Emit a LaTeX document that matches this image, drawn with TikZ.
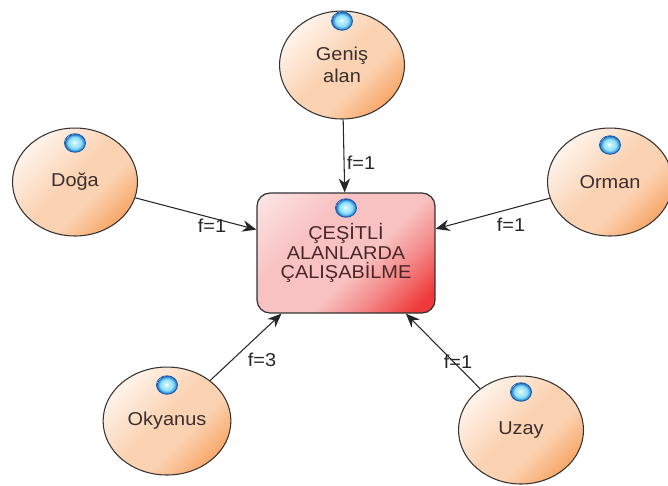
\documentclass[tikz,border=0pt]{standalone}
\usepackage{fontspec}
\setmainfont{Liberation Sans}
\newfontfamily\widesans[FakeStretch=1.07]{Liberation Sans}
\usepackage{tikz}
\usetikzlibrary{arrows.meta, shapes.geometric}
\definecolor{peachlight}{HTML}{FEF1E7}
\definecolor{peachmid}{HTML}{FBD2B2}
\definecolor{peachdark}{HTML}{F7A464}
\definecolor{boxlight}{HTML}{FCE4E4}
\definecolor{boxmid}{HTML}{F8C2C2}
\definecolor{boxdark}{HTML}{EE3A3A}
\definecolor{gelring}{HTML}{1C5CAE}
\definecolor{gelblue}{HTML}{3F9BE0}
\definecolor{gelcyan}{HTML}{8FE2FA}
\definecolor{inktext}{HTML}{3A2E2E}
\definecolor{boxtext}{HTML}{4A2626}
\pgfdeclarehorizontalshading{peachshade}{100bp}{color(0bp)=(peachlight); color(27bp)=(peachlight);
  color(48bp)=(peachmid); color(60bp)=(peachmid); color(76bp)=(peachdark); color(100bp)=(peachdark)}
\pgfdeclarehorizontalshading{boxshade}{100bp}{color(0bp)=(boxlight); color(16bp)=(boxlight);
  color(36bp)=(boxmid); color(56bp)=(boxmid); color(68bp)=(boxmid!55!boxdark); color(80bp)=(boxdark);
  color(100bp)=(boxdark)}
\pgfdeclareradialshading{gelshade}{\pgfpoint{-2bp}{2bp}}{color(0bp)=(white); color(6bp)=(gelcyan!60!white);
  color(15bp)=(gelcyan); color(21bp)=(gelblue); color(25bp)=(gelring)}

\begin{document}
\begin{tikzpicture}[
  x=0.02cm, y=-0.02cm,
  topic/.style={ellipse, draw=black!80, line width=0.6pt,
    minimum width=2.5cm, minimum height=2.16cm,
    shading=peachshade, shading angle=-45,
    font=\widesans\fontsize{10.6}{12.5}\selectfont, text=inktext, align=center},
  goal/.style={rectangle, rounded corners=0.26cm, draw=black!80, line width=0.7pt,
    minimum width=3.56cm, minimum height=2.4cm,
    shading=boxshade, shading angle=-45,
    font=\widesans\fontsize{10.6}{11.2}\selectfont, text=boxtext, align=center},
  gel/.style={ellipse, draw=gelring, line width=0.5pt, inner sep=0pt,
    minimum width=0.42cm, minimum height=0.37cm, shading=gelshade},
  conn/.style={-{Stealth[length=2.8mm, width=2.3mm]}, draw=black!85, line width=0.6pt},
  flbl/.style={font=\widesans\fontsize{10.6}{12}\selectfont, text=black!85, inner sep=1pt}
]
  \useasboundingbox (0,0) rectangle (668,485);
  % Central box
  \node[goal] (box) at (346,253) {ÇEŞİTLİ\\ALANLARDA\\ÇALIŞABİLME};
  \node[gel] (dbox) at (346,208) {};
  % Surrounding topics: name / x / y / text / dot y
  \foreach \n/\x/\y/\t/\dy in {
    genis/342/65/{Geniş\\alan}/21,
    doga/75/182/Doğa/143,
    orman/610/182/Orman/145,
    okyanus/167/421/Okyanus/385,
    uzay/521/430/Uzay/392
  }{
    \node[topic] (\n) at (\x,\y) {\t};
    \node[gel] (d\n) at (\x,\dy) {};
  }
  % Connectors and weights
  \foreach \n/\f/\lx/\ly in {
    genis/f=1/361/163,
    doga/f=1/212/226,
    orman/f=1/511/225,
    okyanus/f=3/262/360,
    uzay/f=1/458/362
  }{
    \draw[conn] (\n) -- (box);
    \node[flbl] (f\n) at (\lx,\ly) {\f};
  }
\end{tikzpicture}
\end{document}
